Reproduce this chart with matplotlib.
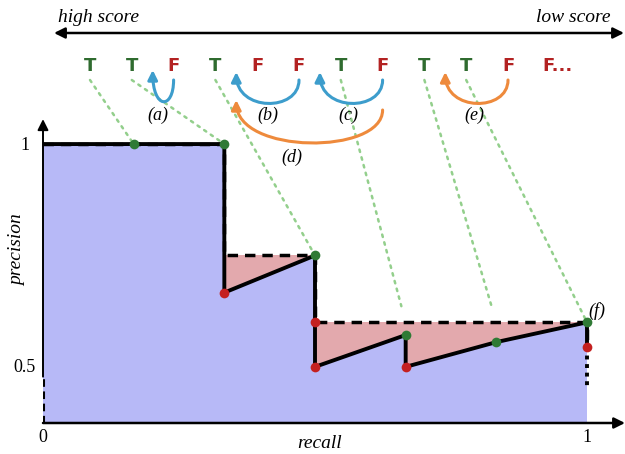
import matplotlib.pyplot as plt
import numpy as np
from matplotlib.patches import FancyArrowPatch, ConnectionPatch
from matplotlib.path import Path

# ranked list of labels (high score -> low score)
labels = ["T", "T", "F", "T", "F", "F", "T", "F", "T", "T", "F"]
# recall / precision after each item of the ranked list
recall = np.array([1/6, 2/6, 2/6, 3/6, 3/6, 3/6, 4/6, 4/6, 5/6, 6/6, 6/6])
precision = np.array([1, 1, 2/3, 3/4, 3/5, 3/6, 4/7, 4/8, 5/9, 6/10, 6/11])
# swaps shown above the curve: (from item, to gap after item, label)
swaps = [(2, 1, "(a)"), (5, 3, "(b)"), (7, 5, "(c)"), (7, 3, "(d)"), (10, 8, "(e)")]

GREEN_TXT = "#2f6b2f"
RED_TXT = "#b32222"
GREEN_DOT = "#2f7a35"
RED_DOT = "#c42020"
BLUE = "#3d9dcc"
ORANGE = "#ee8a3c"
SERIF = "Liberation Serif"

interp = np.maximum.accumulate(precision[::-1])[::-1]
ymin = 0.374

fig = plt.figure(figsize=(6.25, 4.54), dpi=100)
ax = fig.add_axes([43/625, 31/454, 582/625, 303/454])
ax.set_xlim(0, 582/544)
ax.set_ylim(ymin, 1.054)
ax.axis("off")

# curve and envelope
cx = np.concatenate([[0], recall])
cy = np.concatenate([[1], precision])
ex = np.concatenate([[0], recall])
ey = np.concatenate([[1], interp])
ax.fill(np.concatenate([ex, [1, 0]]), np.concatenate([ey, [ymin, ymin]]),
        color="#e3a9ad", lw=0, zorder=1)
ax.fill(np.concatenate([cx, [1, 0]]), np.concatenate([cy, [ymin, ymin]]),
        color="#b7b9f7", lw=0, zorder=2)
ax.plot(ex, ey, color="black", lw=2.5, ls=(0, (3, 2)), zorder=3)
ax.plot(cx, cy, color="black", lw=2.8, solid_joinstyle="round", zorder=4)
ax.plot([1, 1], [precision[-1], 0.45], color="black", lw=2.8, ls=(0, (1, 1.2)), zorder=4)
ax.plot([0, 0], [ymin, 0.478], color="black", lw=2.2, ls=(0, (2.5, 1.5)), zorder=4)

for r, p, lab in zip(recall, precision, labels):
    ax.plot(r, p, "o", ms=7, color=GREEN_DOT if lab == "T" else RED_DOT,
            mec="none", zorder=6)

# axes arrows
ax.annotate("", xy=(0, 1.056), xytext=(0, 0.478), annotation_clip=False,
            arrowprops=dict(arrowstyle="-|>", lw=1.4, color="black",
                            mutation_scale=16, shrinkA=0, shrinkB=0), zorder=5)
ax.annotate("", xy=(582/544, ymin), xytext=(0, ymin), annotation_clip=False,
            arrowprops=dict(arrowstyle="-|>", lw=1.8, color="black",
                            mutation_scale=16, shrinkA=0, shrinkB=0), zorder=5)

# overlay in pixel coordinates
ov = fig.add_axes([0, 0, 1, 1])
ov.set_xlim(0, 625)
ov.set_ylim(454, 0)
ov.axis("off")

ov.text(43, 438, "0", fontsize=13, family=SERIF, ha="center", va="center")
ov.text(587, 438, "1", fontsize=13, family=SERIF, ha="center", va="center")
ov.text(30, 146, "1", fontsize=13, family=SERIF, ha="right", va="center")
ov.text(36, 368, "0.5", fontsize=13, family=SERIF, ha="right", va="center")
ov.text(320, 443, "recall", fontsize=14, family=SERIF, style="italic",
        ha="center", va="center")
ov.text(18, 250, "precision", fontsize=14, family=SERIF, style="italic",
        ha="center", va="center", rotation=90)
ov.text(597, 311, "(f)", fontsize=13, family=SERIF, style="italic",
        ha="center", va="center")

# score arrow
ov.annotate("", xy=(54, 33), xytext=(624, 33),
            arrowprops=dict(arrowstyle="<|-|>", lw=1.8, color="black",
                            mutation_scale=16, shrinkA=0, shrinkB=0))
ov.text(58, 17, "high score", fontsize=14, family=SERIF, style="italic",
        ha="left", va="center")
ov.text(610, 17, "low score", fontsize=14, family=SERIF, style="italic",
        ha="right", va="center")

# letters
lx = 90 + 41.8 * np.arange(len(labels) + 1)
for i, lab in enumerate(labels):
    ov.text(lx[i], 66, lab, fontsize=13, fontweight="bold",
            color=GREEN_TXT if lab == "T" else RED_TXT, ha="center", va="center")
ov.text(lx[-1] - 7, 66, "F...", fontsize=13, fontweight="bold", color=RED_TXT,
        ha="left", va="center")

# dotted guides from each T to the curve
for i, lab in enumerate(labels):
    if lab != "T":
        continue
    shrink = 12 if interp[i] > precision[i] else 0
    con = ConnectionPatch(xyA=(lx[i], 80), coordsA=ov.transData,
                          xyB=(recall[i], interp[i]), coordsB=ax.transData,
                          color="#93cf8c", lw=1.8, ls=(0, (1, 2.2)),
                          shrinkA=0, shrinkB=shrink, zorder=0)
    fig.add_artist(con)

# swap arcs
arc_style = {
    "(a)": dict(y0=80, y1=70, depth=30, color=BLUE, lab=(158, 115)),
    "(b)": dict(y0=80, y1=72, depth=32, color=BLUE, lab=(268, 115)),
    "(c)": dict(y0=80, y1=72, depth=32, color=BLUE, lab=(348, 115)),
    "(d)": dict(y0=110, y1=100, depth=45, color=ORANGE, lab=(292, 157)),
    "(e)": dict(y0=80, y1=72, depth=32, color=ORANGE, lab=(474, 115)),
}
for src, dst, name in swaps:
    st = arc_style[name]
    x0 = lx[src]
    x1 = (lx[dst] + lx[dst + 1]) / 2
    y0, y1, d = st["y0"], st["y1"], st["depth"]
    path = Path([(x0, y0), (x0, y0 + d), (x1, y0 + d), (x1, y1)],
                [Path.MOVETO, Path.CURVE4, Path.CURVE4, Path.CURVE4])
    ov.add_patch(FancyArrowPatch(path=path, arrowstyle="-|>", color=st["color"],
                                 lw=2.2, mutation_scale=14))
    ov.text(*st["lab"], name, fontsize=13, family=SERIF, style="italic",
            ha="center", va="center")

fig.savefig("out.png", dpi=100)
